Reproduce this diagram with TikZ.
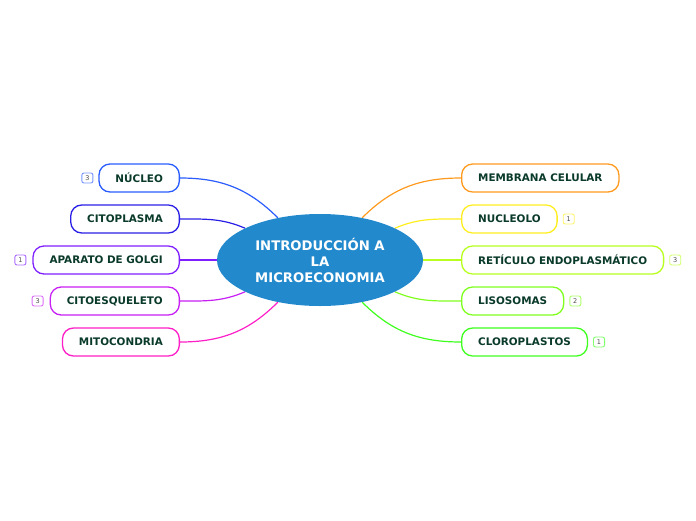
\documentclass[tikz,border=0pt]{standalone}
\usepackage{fontspec}
\setmainfont{DejaVu Sans}
\usetikzlibrary{positioning,shapes.geometric,backgrounds}
\definecolor{hubblue}{HTML}{2389CD}
\definecolor{labelgreen}{HTML}{0A3A2A}
\definecolor{cnucleo}{HTML}{2A5CFF}
\definecolor{ccito}{HTML}{2A1FE6}
\definecolor{cgolgi}{HTML}{7F1FFF}
\definecolor{cesque}{HTML}{C81FF5}
\definecolor{cmito}{HTML}{FF1FC8}
\definecolor{cmemb}{HTML}{FF9A1F}
\definecolor{cnuclo}{HTML}{FFEE1F}
\definecolor{cretic}{HTML}{B8FF1F}
\definecolor{cliso}{HTML}{7FFF1F}
\definecolor{cclor}{HTML}{3FFF1F}
\tikzset{
  hub/.style={ellipse, fill=hubblue, minimum width=206pt, minimum height=92pt, inner sep=0pt,
    align=center, text=white, font=\bfseries\fontsize{13.2}{16}\selectfont},
  topic/.style={rectangle, rounded corners=11pt, draw=#1, line width=1.3pt, fill=white,
    minimum height=28pt, inner xsep=16.5pt, text=labelgreen, font=\bfseries\fontsize{10.4}{12}\selectfont},
  badge/.style={rectangle, rounded corners=2pt, draw=#1!65, line width=0.9pt, fill=white,
    minimum width=11pt, minimum height=10pt, inner sep=0pt, text=black!70,
    font=\fontsize{6.5}{7}\selectfont},
  link/.style={line width=1.2pt},
}
\begin{document}
\begin{tikzpicture}[x=1pt,y=-1pt]
  \useasboundingbox (0,0) rectangle (696,520);
  \node[hub] (intro) at (320,260) {INTRODUCCIÓN A\\LA\\MICROECONOMIA};

  % left side
  \node[topic=cnucleo, anchor=east] (nucleo) at (180,178) {NÚCLEO};
  \node[topic=ccito, anchor=east] (cito) at (180,219) {CITOPLASMA};
  \node[topic=cgolgi, anchor=east] (golgi) at (180,260) {APARATO DE GOLGI};
  \node[topic=cesque, anchor=east] (esque) at (180,301) {CITOESQUELETO};
  \node[topic=cmito, anchor=east] (mito) at (180,342) {MITOCONDRIA};
  \node[badge=cnucleo, left=5pt of nucleo] (nucleonum) {3};
  \node[badge=cgolgi, left=6pt of golgi] (golginum) {1};
  \node[badge=cesque, left=6pt of esque] (esquenum) {3};

  % right side
  \node[topic=cmemb, anchor=west] (memb) at (461,178) {MEMBRANA CELULAR};
  \node[topic=cnuclo, anchor=west] (nuclo) at (461,219) {NUCLEOLO};
  \node[topic=cretic, anchor=west] (retic) at (461,260) {RETÍCULO ENDOPLASMÁTICO};
  \node[topic=cliso, anchor=west] (liso) at (461,301) {LISOSOMAS};
  \node[topic=cclor, anchor=west] (clor) at (461,342) {CLOROPLASTOS};
  \node[badge=cnuclo, right=5pt of nuclo] (nuclonum) {1};
  \node[badge=cretic, right=5pt of retic] (reticnum) {3};
  \node[badge=cliso, right=5pt of liso] (lisonum) {2};
  \node[badge=cclor, right=5pt of clor] (clornum) {1};

  \begin{scope}[on background layer]
    \draw[link,cnucleo] (nucleo.east) to[out=0,in=135] (intro.135);
    \draw[link,ccito] (cito.east) to[out=0,in=157] (intro.157);
    \draw[link,cgolgi] (golgi.east) -- (intro.180);
    \draw[link,cesque] (esque.east) to[out=0,in=203] (intro.203);
    \draw[link,cmito] (mito.east) to[out=0,in=225] (intro.225);
    \draw[link,cmemb] (memb.west) to[out=180,in=45] (intro.45);
    \draw[link,cnuclo] (nuclo.west) to[out=180,in=23] (intro.23);
    \draw[link,cretic] (retic.west) -- (intro.0);
    \draw[link,cliso] (liso.west) to[out=180,in=-23] (intro.-23);
    \draw[link,cclor] (clor.west) to[out=180,in=-45] (intro.-45);
  \end{scope}
\end{tikzpicture}
\end{document}
